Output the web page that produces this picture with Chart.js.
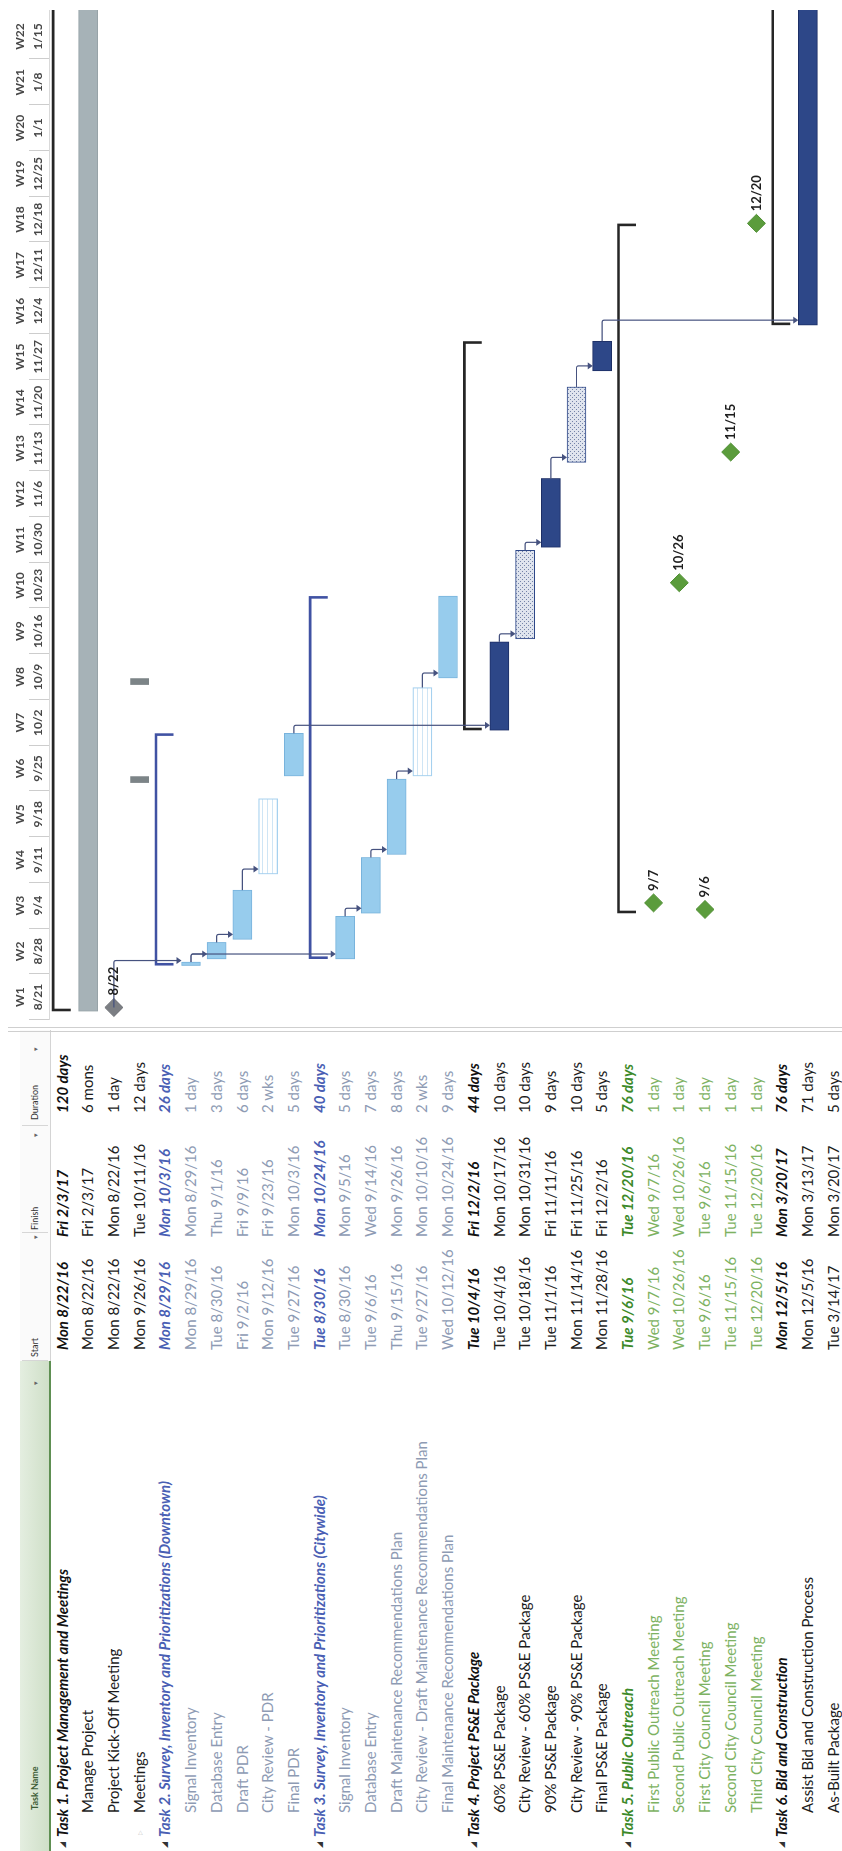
<!DOCTYPE html>
<html>
<head>
<meta charset="utf-8">
<title>Project Schedule</title>
<script src="https://cdn.jsdelivr.net/npm/chart.js@4.4.1/dist/chart.umd.min.js"></script>
<style>
  html, body { margin: 0; padding: 0; background: #fff; overflow: hidden; }
  body { width: 842px; height: 1851px; position: relative; }
  /* The schedule is laid out as a landscape sheet and turned a quarter turn. */
  #sheet {
    position: absolute; left: 0; top: 0;
    width: 1851px; height: 842px;
    transform-origin: 0 0;
    transform: translateY(1851px) rotate(-90deg);
    background: #fff; overflow: hidden;
    font-family: Lato, "Open Sans", sans-serif;
  }
  .cell { position: absolute; white-space: nowrap; height: 25.7px; line-height: 25.7px; font-size: 15px; }
  .sum { font-weight: bold; font-style: italic; }
  .hdr { position: absolute; top: 20px; height: 30px; line-height: 30px; font-size: 9px; color: #333; white-space: nowrap; }
  .drop { position: absolute; top: 20px; height: 30px; line-height: 30px; font-size: 7px; color: #666; }
  .icon { position: absolute; font-size: 8px; height: 25.7px; line-height: 25.7px; font-family: "DejaVu Sans", sans-serif; }
  #nameHead { position: absolute; left: 0; top: 20px; width: 490px; height: 29px;
              background: linear-gradient(#e4eee0, #cfdfc8); border-bottom: 2px solid #5e8f52; }
  #colHead { position: absolute; left: 490px; top: 20px; width: 331px; height: 30px;
             background: #fafafa; border-bottom: 1px solid #d4d4d4; }
  .vsep { position: absolute; top: 22px; width: 1px; height: 26px; background: #d6d6d6; }
  .split { position: absolute; top: 8px; width: 1px; height: 834px; background: #cfcfcf; }
  #gantt { position: absolute; left: 821px; top: 0; }
</style>
</head>
<body>
<div id="sheet">
  <div id="nameHead"></div>
  <div id="colHead"></div>
  <div class="split" style="left:819px"></div>
  <div class="split" style="left:823px"></div>
  <canvas id="gantt" width="1030" height="880"></canvas>
</div>
<script>
// ---- schedule data ----
const timelineStart = '8/21/16';
const weekLabels = ['W1','W2','W3','W4','W5','W6','W7','W8','W9','W10','W11',
                    'W12','W13','W14','W15','W16','W17','W18','W19','W20','W21','W22'];
const weekDates = ['8/21','8/28','9/4','9/11','9/18','9/25','10/2','10/9','10/16','10/23','10/30',
                   '11/6','11/13','11/20','11/27','12/4','12/11','12/18','12/25','1/1','1/8','1/15'];

const taskNames = [
  'Task 1. Project Management and Meetings',
  'Manage Project',
  'Project Kick-Off Meeting',
  'Meetings',
  'Task 2. Survey, Inventory and Prioritizations (Downtown)',
  'Signal Inventory',
  'Database Entry',
  'Draft PDR',
  'City Review - PDR',
  'Final PDR',
  'Task 3. Survey, Inventory and Prioritizations (Citywide)',
  'Signal Inventory',
  'Database Entry',
  'Draft Maintenance Recommendations Plan',
  'City Review - Draft Maintenance Recommendations Plan',
  'Final Maintenance Recommendations Plan',
  'Task 4. Project PS&E Package',
  '60% PS&E Package',
  'City Review - 60% PS&E Package',
  '90% PS&E Package',
  'City Review - 90% PS&E Package',
  'Final PS&E Package',
  'Task 5. Public Outreach',
  'First Public Outreach Meeting',
  'Second Public Outreach Meeting',
  'First City Council Meeting',
  'Second City Council Meeting',
  'Third City Council Meeting',
  'Task 6. Bid and Construction',
  'Assist Bid and Construction Process',
  'As-Built Package'
];
const startDates = [
  'Mon 8/22/16','Mon 8/22/16','Mon 8/22/16','Mon 9/26/16',
  'Mon 8/29/16','Mon 8/29/16','Tue 8/30/16','Fri 9/2/16','Mon 9/12/16','Tue 9/27/16',
  'Tue 8/30/16','Tue 8/30/16','Tue 9/6/16','Thu 9/15/16','Tue 9/27/16','Wed 10/12/16',
  'Tue 10/4/16','Tue 10/4/16','Tue 10/18/16','Tue 11/1/16','Mon 11/14/16','Mon 11/28/16',
  'Tue 9/6/16','Wed 9/7/16','Wed 10/26/16','Tue 9/6/16','Tue 11/15/16','Tue 12/20/16',
  'Mon 12/5/16','Mon 12/5/16','Tue 3/14/17'
];
const finishDates = [
  'Fri 2/3/17','Fri 2/3/17','Mon 8/22/16','Tue 10/11/16',
  'Mon 10/3/16','Mon 8/29/16','Thu 9/1/16','Fri 9/9/16','Fri 9/23/16','Mon 10/3/16',
  'Mon 10/24/16','Mon 9/5/16','Wed 9/14/16','Mon 9/26/16','Mon 10/10/16','Mon 10/24/16',
  'Fri 12/2/16','Mon 10/17/16','Mon 10/31/16','Fri 11/11/16','Fri 11/25/16','Fri 12/2/16',
  'Tue 12/20/16','Wed 9/7/16','Wed 10/26/16','Tue 9/6/16','Tue 11/15/16','Tue 12/20/16',
  'Mon 3/20/17','Mon 3/13/17','Mon 3/20/17'
];
const durations = [
  '120 days','6 mons','1 day','12 days',
  '26 days','1 day','3 days','6 days','2 wks','5 days',
  '40 days','5 days','7 days','8 days','2 wks','9 days',
  '44 days','10 days','10 days','9 days','10 days','5 days',
  '76 days','1 day','1 day','1 day','1 day','1 day',
  '76 days','71 days','5 days'
];
const taskTypes = [
  'summary','task','milestone','recurring',
  'summary','task','task','task','review','task',
  'summary','task','task','task','review','task',
  'summary','task','review','task','review','task',
  'summary','milestone','milestone','milestone','milestone','milestone',
  'summary','task','task'
];
const meetingDates = ['9/26/16', '10/11/16'];
// finish-to-start dependencies: [predecessor row, successor row]
const links = [[2,5],[5,6],[6,7],[7,8],[5,11],[11,12],[12,13],[13,14],[14,15],
               [9,17],[17,18],[18,19],[19,20],[20,21],[21,29]];

// ---- helpers ----
function toUTC(mdY) {
  const [m, d, y] = mdY.split('/').map(Number);
  return Date.UTC(2000 + y, m - 1, d);
}
const baseUTC = toUTC(timelineStart);
function dayOf(s) {                       // 'Mon 8/22/16' or '8/22/16' -> days from timeline start
  const part = s.includes(' ') ? s.split(' ')[1] : s;
  return (toUTC(part) - baseUTC) / 86400000;
}
const WORK_START = 8 / 24, WORK_END = 21 / 24, MILESTONE_AT = 22 / 24;

// group index for every row (a new group starts at each summary row)
const groupOf = [];
let g = -1;
taskTypes.forEach(t => { if (t === 'summary') g++; groupOf.push(g); });

// ---- palette ----
const lightBlue = '#97cced', lightBlueEdge = '#78b3dc';
const navy = '#2d4788', navyEdge = '#1d2f66';
const groupBar = ['#a6b2b7', lightBlue, lightBlue, navy, '#5a9a3b', navy];
const groupEdge = ['#97a3a8', lightBlueEdge, lightBlueEdge, navyEdge, '#4a8a2b', navyEdge];
const summaryInk = ['#262626', '#4052a3', '#4052a3', '#262626', '#262626', '#262626'];
const headInk = ['#111111', '#4a5fb4', '#4a5fb4', '#111111', '#3d8a2a', '#111111'];
const subInk  = ['#1c1c1c', '#8e9bb4', '#8e9bb4', '#1c1c1c', '#7db262', '#1c1c1c'];

// ---- table (real text) ----
const sheet = document.getElementById('sheet');
const ROW0 = 49.65, ROWH = 25.7;
function put(cls, text, left, top, color, extra) {
  const el = document.createElement('div');
  el.className = cls;
  el.textContent = text;
  el.style.left = left + 'px';
  el.style.top = top + 'px';
  if (color) el.style.color = color;
  if (extra) Object.assign(el.style, extra);
  sheet.appendChild(el);
  return el;
}
put('hdr', 'Task Name', 41, 20, '#3c5c35', { fontWeight: 'bold' });
put('drop', '\u25BE', 466, 20);
put('hdr', 'Start', 494, 20);
put('drop', '\u25BE', 612, 20);
put('hdr', 'Finish', 621, 20);
put('drop', '\u25BE', 714, 20);
put('hdr', 'Duration', 731, 20);
put('drop', '\u25BE', 800, 20);
[490, 618, 725].forEach(x => { const s = document.createElement('div'); s.className = 'vsep'; s.style.left = x + 'px'; sheet.appendChild(s); });

taskNames.forEach((name, i) => {
  const top = ROW0 + ROWH * i;
  const isSum = taskTypes[i] === 'summary';
  const ink = isSum ? headInk[groupOf[i]] : subInk[groupOf[i]];
  const cls = isSum ? 'cell sum' : 'cell';
  if (isSum) {
    put('icon', '\u25E2', 3, top, '#333');
    put(cls, name, 14, top, ink);
  } else {
    if (taskTypes[i] === 'recurring') put('icon', '\u25B7', 16, top, '#c4c4c4', { fontSize: '6px' });
    put(cls, name, 38, top, ink);
  }
  put(cls, startDates[i], 501, top, ink);
  put(cls, finishDates[i], 614, top, ink);
  put(cls, durations[i], 738, top, ink);
});

// ---- fills ----
function stripes() {
  const c = document.createElement('canvas'); c.width = 5; c.height = 5;
  const x = c.getContext('2d');
  x.fillStyle = '#ffffff'; x.fillRect(0, 0, 5, 5);
  x.fillStyle = '#cfe5f5'; x.fillRect(0, 2, 5, 1);
  return x.createPattern(c, 'repeat');
}
function stipple() {
  const c = document.createElement('canvas'); c.width = 4; c.height = 4;
  const x = c.getContext('2d');
  x.fillStyle = '#dfe4ee'; x.fillRect(0, 0, 4, 4);
  x.fillStyle = '#7483a8'; x.fillRect(0, 0, 1, 1); x.fillRect(2, 2, 1, 1);
  return x.createPattern(c, 'repeat');
}

// ---- datasets ----
const rowIds = taskNames.map((_, i) => 'row' + i);
const empty = () => taskNames.map(() => null);
const span = i => [dayOf(startDates[i]) + WORK_START, dayOf(finishDates[i]) + WORK_END];

const plainBars = empty(), plainFill = taskNames.map(() => 'transparent'), plainEdge = taskNames.map(() => 'transparent');
const outlineBars = empty(), stippleBars = empty();
taskTypes.forEach((t, i) => {
  if (t === 'task') {
    plainBars[i] = span(i);
    plainFill[i] = groupBar[groupOf[i]];
    plainEdge[i] = groupEdge[groupOf[i]];
  } else if (t === 'review') {
    if (groupOf[i] === 3) stippleBars[i] = span(i); else outlineBars[i] = span(i);
  }
});

const barCommon = { grouped: false, borderSkipped: false, barThickness: 19 };
const datasets = [
  Object.assign({ label: 'tasks', data: plainBars, backgroundColor: plainFill, borderColor: plainEdge, borderWidth: 1 }, barCommon),
  Object.assign({ label: 'reviews', data: outlineBars, backgroundColor: stripes(), borderColor: '#a6d1ef', borderWidth: 1.2 }, barCommon),
  Object.assign({ label: 'agency reviews', data: stippleBars, backgroundColor: stipple(), borderColor: navy, borderWidth: 1 }, barCommon)
];
meetingDates.forEach(d => {
  const data = empty();
  const r = taskTypes.indexOf('recurring');
  data[r] = [dayOf(d) + WORK_START, dayOf(d) + 30 / 24];
  datasets.push(Object.assign({ label: 'meeting ' + d, data, backgroundColor: '#7c8487', borderColor: '#7c8487', borderWidth: 0 }, barCommon, { barThickness: 18 }));
});

const msRows = taskTypes.map((t, i) => t === 'milestone' ? i : -1).filter(i => i >= 0);
datasets.push({
  label: 'milestones',
  type: 'line',
  showLine: false,
  data: msRows.map(i => ({ x: dayOf(finishDates[i]) + MILESTONE_AT, y: rowIds[i] })),
  pointStyle: 'rectRot',
  pointRadius: 9,
  pointBackgroundColor: msRows.map(i => groupOf[i] === 4 ? '#5b9c3c' : '#7b7e83'),
  pointBorderColor: msRows.map(i => groupOf[i] === 4 ? '#4f8f33' : '#6c6f74'),
  pointBorderWidth: 1
});
const MS_INDEX = datasets.length - 1;

// ---- drawing of timescale, summary brackets, links and milestone dates ----
const ganttDecor = {
  id: 'ganttDecor',
  beforeDatasetsDraw(chart) {
    const { ctx, chartArea, scales: { x, y } } = chart;
    ctx.save();
    // timescale header
    ctx.font = 'bold 12px Lato, sans-serif';
    ctx.fillStyle = '#474747';
    ctx.textAlign = 'center';
    ctx.textBaseline = 'middle';
    ctx.strokeStyle = '#cdcdcd';
    ctx.lineWidth = 1;
    weekLabels.forEach((w, k) => {
      const mid = x.getPixelForValue(7 * k + 3.5);
      ctx.fillText(w, mid, 20);
      ctx.fillText(weekDates[k], mid, 38);
      const b = Math.round(x.getPixelForValue(7 * k)) + 0.5;
      ctx.beginPath(); ctx.moveTo(b, 29); ctx.lineTo(b, 49); ctx.stroke();
    });
    ctx.strokeStyle = '#d9d9d9';
    ctx.beginPath(); ctx.moveTo(chartArea.left, 49.5); ctx.lineTo(chartArea.right, 49.5); ctx.stroke();

    // summary brackets
    ctx.beginPath();
    ctx.rect(chartArea.left, chartArea.top, chartArea.width, chartArea.height);
    ctx.clip();
    const half = (y.getPixelForValue(1) - y.getPixelForValue(0)) / 2;
    taskTypes.forEach((t, i) => {
      if (t !== 'summary') return;
      const [s, e] = span(i);
      const xs = x.getPixelForValue(s), xe = x.getPixelForValue(e);
      const top = y.getPixelForValue(i) - half;
      const ly = top + 3.5, ty = top + 21;
      ctx.strokeStyle = summaryInk[groupOf[i]];
      ctx.lineWidth = 2.6;
      ctx.lineCap = 'butt';
      ctx.beginPath();
      ctx.moveTo(xs + 1.3, ty);
      ctx.lineTo(xs + 1.3, ly);
      ctx.lineTo(xe - 1.3, ly);
      ctx.lineTo(xe - 1.3, ty);
      ctx.stroke();
    });
    ctx.restore();
  },
  afterDatasetsDraw(chart) {
    const { ctx, chartArea, scales: { x, y } } = chart;
    ctx.save();
    ctx.beginPath();
    ctx.rect(chartArea.left, chartArea.top, chartArea.width, chartArea.height);
    ctx.clip();
    // dependency links
    ctx.strokeStyle = '#46527f';
    ctx.fillStyle = '#46527f';
    ctx.lineWidth = 1.2;
    links.forEach(([p, s]) => {
      const predEnd = taskTypes[p] === 'milestone'
        ? dayOf(finishDates[p]) + MILESTONE_AT
        : span(p)[1];
      const x0 = x.getPixelForValue(predEnd);
      const y0 = y.getPixelForValue(p);
      const x1 = Math.max(x.getPixelForValue(span(s)[0]) + 5, x0 + 4);
      const y1 = y.getPixelForValue(s) - 9.5;
      ctx.beginPath();
      ctx.moveTo(x0, y0);
      ctx.lineTo(x1 - 2, y0);
      ctx.quadraticCurveTo(x1, y0, x1, y0 + 2);
      ctx.lineTo(x1, y1 - 4);
      ctx.stroke();
      ctx.beginPath();
      ctx.moveTo(x1 - 3.5, y1 - 5);
      ctx.lineTo(x1 + 3.5, y1 - 5);
      ctx.lineTo(x1, y1);
      ctx.closePath();
      ctx.fill();
    });
    // milestone dates
    const meta = chart.getDatasetMeta(MS_INDEX);
    ctx.font = 'bold 13px Lato, sans-serif';
    ctx.fillStyle = '#1e1e1e';
    ctx.textAlign = 'left';
    ctx.textBaseline = 'middle';
    meta.data.forEach((pt, j) => {
      const label = finishDates[msRows[j]].split(' ')[1].split('/').slice(0, 2).join('/');
      ctx.fillText(label, pt.x + 12, pt.y);
    });
    ctx.restore();
  }
};

const DAY_PX = 6.664;
const canvas = document.getElementById('gantt');
new Chart(canvas, {
  type: 'bar',
  data: { labels: rowIds, datasets },
  options: {
    indexAxis: 'y',
    responsive: false,
    animation: false,
    devicePixelRatio: 1,
    layout: { padding: { top: ROW0, bottom: canvas.height - ROW0 - ROWH * taskNames.length, left: 0, right: 0 } },
    scales: {
      x: { type: 'linear', min: 0, max: canvas.width / DAY_PX, display: false },
      y: { type: 'category', offset: true, display: false }
    },
    plugins: { legend: { display: false }, tooltip: { enabled: false } }
  },
  plugins: [ganttDecor]
});
</script>
</body>
</html>
